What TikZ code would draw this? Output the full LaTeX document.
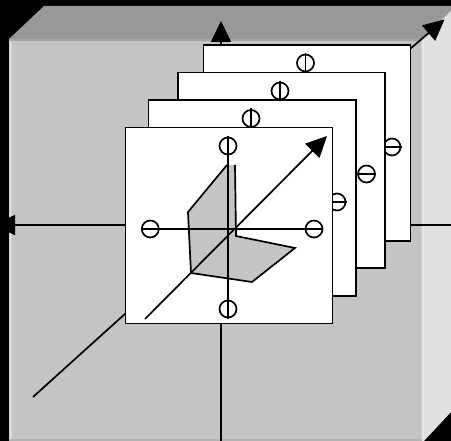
\documentclass[tikz,border=0pt]{standalone}
\usetikzlibrary{arrows.meta}
\definecolor{frontgray}{HTML}{C4C4C4}
\definecolor{topgray}{HTML}{989898}
\definecolor{sidegray}{HTML}{E0E0E0}
\tikzset{
  px/.style={x=1pt,y=-1pt},
  ln/.style={draw=black,line width=1.7pt,line join=miter},
  axisarrow/.style={ln,-{Triangle[length=21pt,width=20pt]}},
  planebox/.style={ln,fill=white},
  dial/.style={ln,fill=none},
}
\newcommand{\dialh}[2]{\draw[dial] (#1,#2) circle[radius=8.5];\draw[ln] (#1-9.5,#2) -- (#1+9.5,#2);}
\newcommand{\dialv}[2]{\draw[dial] (#1,#2) circle[radius=8.5];\draw[ln] (#1,#2-10) -- (#1,#2+10);}
\begin{document}
\begin{tikzpicture}[px]
\useasboundingbox (0,0) rectangle (451,441);
\clip (0,0) rectangle (451,441);
\fill[black] (0,0) rectangle (451,441);
% cube faces
\fill[topgray] (9,39) -- (44,6) -- (451,6) -- (451,12) -- (422,40) -- cycle;
\fill[sidegray] (422,39) -- (451,11) -- (451,412) -- (424,441) -- (422,441) -- cycle;
\fill[frontgray] (9,39) rectangle (422,441);
\fill[white,opacity=.35] (9,39) rectangle (11.5,441);
\fill[white,opacity=.2] (420.5,39) rectangle (424,441);
\fill[topgray!70!frontgray] (9,39) rectangle (422,41);
\fill[topgray!40!frontgray] (9,439.5) rectangle (422,441);
% named axis ends
\coordinate (leftend) at (-6,225);
\coordinate (rightend) at (451,225);
\coordinate (upend) at (221,21);
\coordinate (downend) at (221,441);
\coordinate (dfar) at (444.5,19.5);
\coordinate (dnear) at (33,397);
% outer axes
\draw[axisarrow] (125,225) -- (leftend);
\draw[ln] (410,225) -- (rightend);
\draw[axisarrow] (221,46) -- (upend);
\draw[ln] (221,323) -- (downend);
\draw[axisarrow] (410,49) -- (dfar);
\draw[ln] (126,313) -- (dnear);
% back planes
\draw[planebox] (203.5,45) rectangle (410.5,241);
\dialv{305.5}{63}\dialh{392}{147}
\draw[planebox] (178,72.5) rectangle (385,268);
\dialv{280}{91}\dialh{366.5}{174}
\draw[planebox] (148.5,100) rectangle (356,296);
\dialv{251}{118.5}\dialh{337}{202}
% front plane
\draw[planebox] (125.5,127.5) rectangle (332.5,323.5);
% gray polygon
\fill[frontgray] (227,165) -- (188,212) -- (191,273) -- (252,282) -- (295,248) -- (236,236) -- (235,165) -- cycle;
\draw[ln] (227,165) -- (188,212) -- (191,273) -- (252,282) -- (295,248) -- (236,236) -- (235,165);
% front axes
\coordinate (fa) at (145,319);
\coordinate (fb) at (327,136);
\draw[axisarrow] (fa) -- (fb);
\draw[dial] (150.3,229) circle[radius=8.5];
\draw[dial] (314,229) circle[radius=8.5];
\draw[dial] (228,146) circle[radius=8.5];
\draw[dial] (228,309) circle[radius=8.5];
\draw[ln] (141,229) -- (323,229);
\draw[ln] (228,136) -- (228,319);
\end{tikzpicture}
\end{document}
